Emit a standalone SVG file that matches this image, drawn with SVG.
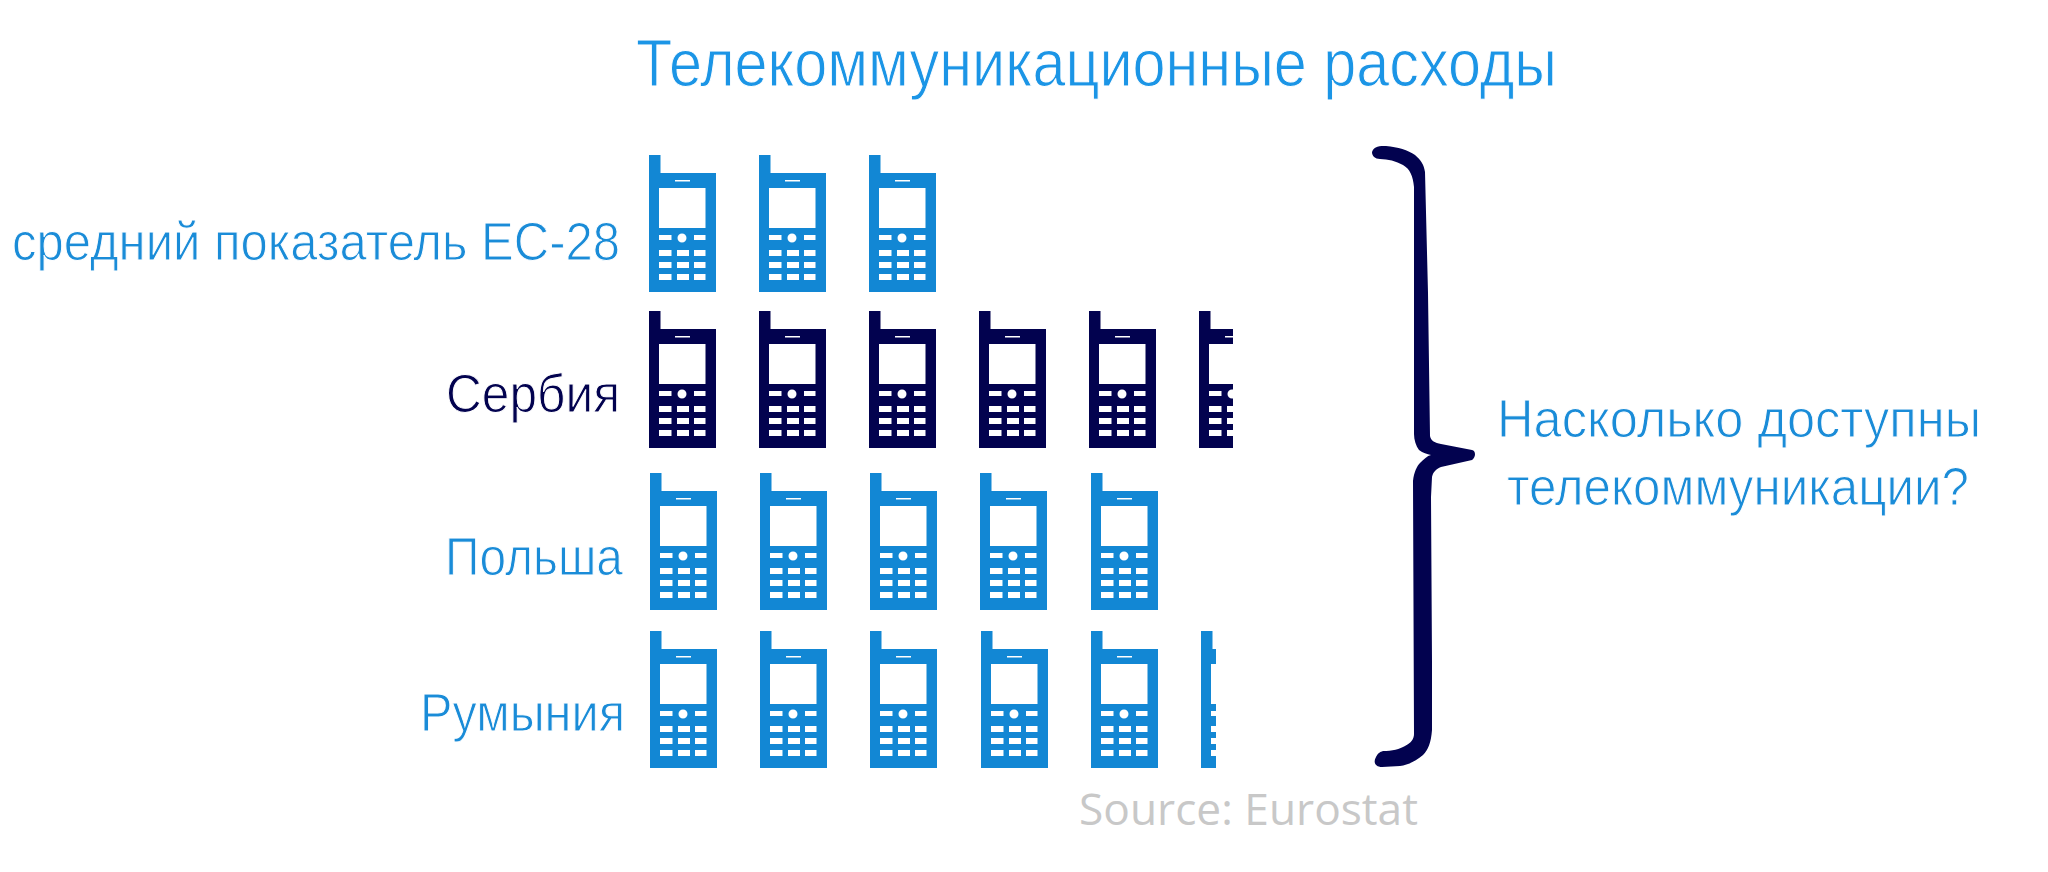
<svg xmlns="http://www.w3.org/2000/svg" width="2048" height="872" viewBox="0 0 2048 872">
<style>
text{font-family:"Liberation Sans",Arial,sans-serif;font-size:53px;fill:#1a8cd8;stroke:#fff;stroke-width:1px;paint-order:fill;}
.dark{fill:#02024f}
.title{font-size:66px;fill:#1b95e6}
.src{font-family:"Open Sans","Liberation Sans",sans-serif;font-size:44px;fill:#c8c8c8;stroke:none}
</style>
<defs>
<path id="phone" fill-rule="evenodd" d="M0 0H11.5V18H67V137H0Z M10 33V73H56.5V33Z M26 25V26.5H41V25Z M10 80V85H22.5V80Z M45 80V85H56.5V80Z M10 95V101H22.5V95Z M28 95V101H40V95Z M45 95V101H56.5V95Z M10 107V113H22.5V107Z M28 107V113H40V107Z M45 107V113H56.5V107Z M10 119V125H22.5V119Z M28 119V125H40V119Z M45 119V125H56.5V119Z M28.5 83a4.5 4.5 0 1 0 9 0a4.5 4.5 0 1 0 -9 0Z"/>
<clipPath id="c2"><rect x="0" y="0" width="34" height="137"/></clipPath>
<clipPath id="c4"><rect x="0" y="0" width="15" height="137"/></clipPath>
</defs>
<rect width="2048" height="872" fill="#fff"/>
<g id="title"><text class="title" x="636" y="86" textLength="921" lengthAdjust="spacingAndGlyphs">Телекоммуникационные расходы</text></g>
<g id="row-eu" fill="#1287d4">
<text x="12" y="260" textLength="608" lengthAdjust="spacingAndGlyphs">средний показатель ЕС-28</text>
<use href="#phone" x="649" y="155"/><use href="#phone" x="759" y="155"/><use href="#phone" x="869" y="155"/>
</g>
<g id="row-serbia" fill="#02024f">
<text class="dark" x="446" y="412" textLength="174" lengthAdjust="spacingAndGlyphs">Сербия</text>
<use href="#phone" x="649" y="311"/><use href="#phone" x="759" y="311"/><use href="#phone" x="869" y="311"/><use href="#phone" x="979" y="311"/><use href="#phone" x="1089" y="311"/>
<g transform="translate(1199 311)" clip-path="url(#c2)"><use href="#phone"/></g>
</g>
<g id="row-poland" fill="#1287d4">
<text x="445" y="575" textLength="178" lengthAdjust="spacingAndGlyphs">Польша</text>
<use href="#phone" x="650" y="473"/><use href="#phone" x="760" y="473"/><use href="#phone" x="870" y="473"/><use href="#phone" x="980" y="473"/><use href="#phone" x="1091" y="473"/>
</g>
<g id="row-romania" fill="#1287d4">
<text x="420" y="731" textLength="205" lengthAdjust="spacingAndGlyphs">Румыния</text>
<use href="#phone" x="650" y="631"/><use href="#phone" x="760" y="631"/><use href="#phone" x="870" y="631"/><use href="#phone" x="981" y="631"/><use href="#phone" x="1091" y="631"/>
<g transform="translate(1201 631)" clip-path="url(#c4)"><use href="#phone"/></g>
</g>
<g id="brace"><path fill="#02024f" d="M1372 152C1374 146 1380 146 1386 146C1398 147 1408 150 1415 155C1421 160 1424 165 1425 172L1428 293L1430 436C1431 441 1435 443 1441 444L1472 450C1476 451 1476 457 1472 460L1441 467C1436 469 1433 472 1432 477L1431 497L1432 661V730C1431 743 1428 750 1423 755C1416 761 1408 765 1400 766L1382 767C1375 767 1373 762 1376 757C1378 753 1380 752 1383 751C1392 751 1400 749 1405 746C1411 743 1414 739 1414 734L1413 481C1414 472 1417 466 1420 463C1424 459 1427 456 1431 455C1427 454 1423 453 1419 450C1416 446 1414 440 1414 434V187C1413 176 1410 169 1403 165C1396 161 1388 159 1380 159C1375 159 1372 156 1372 152Z"/></g>
<g id="question"><text x="1497" y="437" textLength="484" lengthAdjust="spacingAndGlyphs">Насколько доступны</text><text x="1507" y="505" textLength="462" lengthAdjust="spacingAndGlyphs">телекоммуникации?</text></g>
<g id="source"><text class="src" x="1079" y="825" textLength="339" lengthAdjust="spacingAndGlyphs">Source: Eurostat</text></g>
</svg>
